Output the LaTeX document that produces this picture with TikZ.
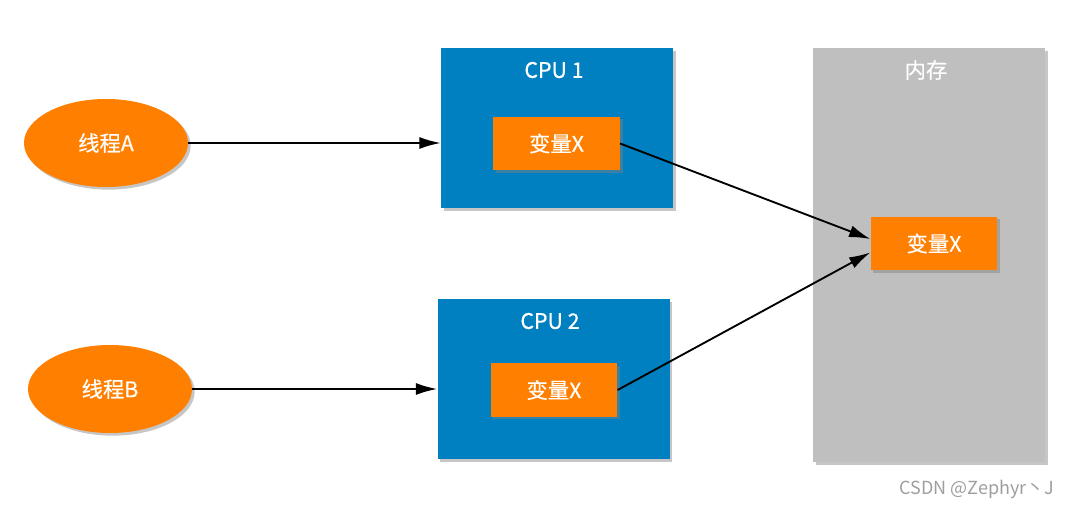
\documentclass[tikz,border=0pt]{standalone}
\usepackage{fontspec}
\newfontfamily\cjk[FakeBold=0.4]{Noto Sans CJK SC}
\newfontfamily\cjkmark{Noto Sans CJK SC}
\usepackage{tikz}
\usetikzlibrary{shapes.geometric,shadows,arrows.meta}

\definecolor{cpublue}{RGB}{0,128,192}
\definecolor{varorange}{RGB}{255,128,0}
\definecolor{memgray}{RGB}{191,191,191}

\begin{document}
\begin{tikzpicture}[x=0.75pt,y=-0.75pt]
	\tikzset{every node/.style={font=\cjk\fontsize{16}{19}\selectfont,text=white}}
	\tikzset{shade/.style={drop shadow={shadow xshift=2pt,shadow yshift=-2pt,opacity=0.45}}}
	\tikzset{thread/.style={ellipse,fill=varorange,shade,minimum width=123pt,minimum height=66pt,inner sep=0pt}}
	\tikzset{cpubox/.style={rectangle,fill=cpublue,shade,minimum width=174pt,minimum height=120pt,inner sep=0pt}}
	\tikzset{membox/.style={rectangle,fill=memgray,shade,minimum width=174pt,minimum height=310.5pt,inner sep=0pt}}
	\tikzset{varbox/.style={rectangle,fill=varorange,shade,minimum width=95pt,minimum height=40pt,inner sep=0pt}}
	\tikzset{link/.style={-{Latex[length=16pt,width=9pt]},line width=1.4pt,black}}
	\useasboundingbox (0,0) rectangle (1071,509);
	% boxes
	\node[cpubox] (cpuA) at (557,128) {};
	\node[cpubox] (cpuB) at (553.5,379) {};
	\node[membox] (mem) at (929,255) {};
	\node (cpuAtitle) at (554,70) {CPU 1};
	\node (cpuBtitle) at (550,321) {CPU 2};
	\node (memtitle) at (926,70) {内存};
	% variables
	\node[varbox] (varA) at (556.5,143.5) {变量X};
	\node[varbox] (varB) at (554,390) {变量X};
	\node[varbox] (memvar) at (934,243.5) {变量X};
	% threads
	\node[thread] (thA) at (106,143) {线程A};
	\node[thread] (thB) at (110,389) {线程B};
	\draw[link] (thA) -- (cpuA.west |- thA);
	\draw[link] (thB) -- (cpuB.west |- thB);
	\draw[link] (varA.east) -- (memvar.176);
	\draw[link] (varB.east) -- (memvar.188);
	\node[font=\cjkmark\fontsize{13.5}{16}\selectfont,text=black!38] (mark) at (977,489) {CSDN @Zephyr丶J};
\end{tikzpicture}
\end{document}
